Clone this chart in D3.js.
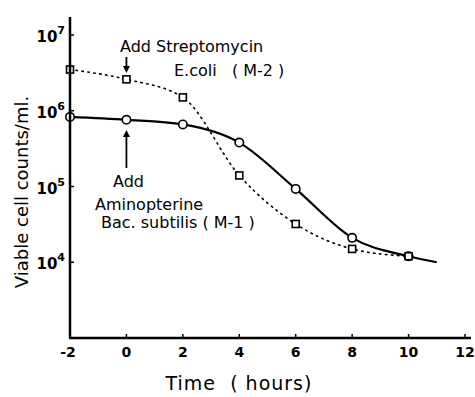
<!DOCTYPE html>
<html lang="en">
<head>
<meta charset="UTF-8">
<title>Viable cell counts</title>
<script src="https://cdn.jsdelivr.net/npm/d3@7"></script>
<style>
  body { margin: 0; background: #fff; }
  svg { font-family: "DejaVu Sans", sans-serif; }
  text { white-space: pre; }
  .tick-lbl { font-size: 14px; font-weight: bold; }
  .note { font-size: 16px; }
</style>
</head>
<body>
<svg width="475" height="397"></svg>
<script>
// hours after addition
const timesSubtilis = [-2, 0, 2, 4, 6, 8, 10, 11];
const countsSubtilis = [8.3e5, 7.6e5, 6.6e5, 3.8e5, 9.3e4, 2.1e4, 1.2e4, 1.0e4];
const timesColi = [-2, 0, 2, 4, 6, 8, 10];
const countsColi = [3.5e6, 2.6e6, 1.5e6, 1.4e5, 3.2e4, 1.5e4, 1.2e4];
const xTicks = [-2, 0, 2, 4, 6, 8, 10, 12];
const yTicks = [1e4, 1e5, 1e6, 1e7];

const svg = d3.select("svg");

const x = d3.scaleLinear().domain([-2, 12]).range([70, 465]);
const y = d3.scaleLog().domain([1e3, 1e7]).range([338, 35]);

// axes
svg.append("line")
    .attr("x1", x(-2) - 1).attr("x2", 471)
    .attr("y1", y(1e3)).attr("y2", y(1e3))
    .attr("stroke", "#000").attr("stroke-width", 2.5);

svg.selectAll(".xt").data(xTicks).join("line")
    .attr("x1", d => x(d)).attr("x2", d => x(d))
    .attr("y1", y(1e3)).attr("y2", y(1e3) - 4)
    .attr("stroke", "#000").attr("stroke-width", 1.5);
svg.selectAll(".xl").data(xTicks).join("text")
    .attr("class", "tick-lbl")
    .attr("x", d => x(d) - (d < 0 ? 2 : 0))
    .attr("y", 357)
    .attr("text-anchor", "middle")
    .text(d => d);

svg.selectAll(".yt").data(yTicks).join("line")
    .attr("x1", x(-2)).attr("x2", x(-2) + 4)
    .attr("y1", d => y(d)).attr("y2", d => y(d))
    .attr("stroke", "#000").attr("stroke-width", 1.5);
const yl = svg.selectAll(".yl").data(yTicks).join("text")
    .attr("class", "tick-lbl")
    .attr("x", 65)
    .attr("y", d => y(d) + 7)
    .attr("text-anchor", "end")
    .style("font-size", "15px");
yl.append("tspan").text("10");
yl.append("tspan").attr("dy", -8).style("font-size", "11px")
    .text(d => Math.round(Math.log10(d)));

// axis titles
svg.append("text")
    .attr("x", 239).attr("y", 390)
    .attr("text-anchor", "middle")
    .style("font-size", "19px")
    .style("letter-spacing", "1px")
    .text("Time  ( hours)");
svg.append("text")
    .attr("transform", "translate(28,192) rotate(-90)")
    .attr("text-anchor", "middle")
    .style("font-size", "18px")
    .text("Viable cell counts/ml.");

// curves
const line = d3.line()
    .x(d => x(d[0]))
    .y(d => y(d[1]))
    .curve(d3.curveMonotoneX);

const subtilis = timesSubtilis.map((t, i) => [t, countsSubtilis[i]]);
const coli = timesColi.map((t, i) => [t, countsColi[i]]);

svg.append("path").datum(subtilis)
    .attr("d", line)
    .attr("fill", "none").attr("stroke", "#000").attr("stroke-width", 2.2);
svg.append("path").datum(coli)
    .attr("d", line)
    .attr("fill", "none").attr("stroke", "#000").attr("stroke-width", 1.6)
    .attr("stroke-dasharray", "1.5,4.5").attr("stroke-linecap", "round");

svg.selectAll(".pc").data(subtilis.slice(0, 7)).join("circle")
    .attr("cx", d => x(d[0])).attr("cy", d => y(d[1]))
    .attr("r", 4.2)
    .attr("fill", "#fff").attr("stroke", "#000").attr("stroke-width", 1.6);
svg.selectAll(".ps").data(coli).join("rect")
    .attr("x", d => x(d[0]) - 3.5).attr("y", d => y(d[1]) - 3.5)
    .attr("width", 7).attr("height", 7)
    .attr("fill", "#fff").attr("stroke", "#000").attr("stroke-width", 1.6);

// y axis drawn over the first markers
svg.append("line")
    .attr("x1", x(-2)).attr("x2", x(-2))
    .attr("y1", 17).attr("y2", y(1e3))
    .attr("stroke", "#000").attr("stroke-width", 2.5);

// annotations
function arrow(x0, y0, y1) {
    const dir = y1 > y0 ? 1 : -1;
    svg.append("line")
        .attr("x1", x0).attr("x2", x0).attr("y1", y0).attr("y2", y1 - dir * 4)
        .attr("stroke", "#000").attr("stroke-width", 1.8);
    svg.append("path")
        .attr("d", `M${x0 - 3.5},${y1 - dir * 7}L${x0},${y1}L${x0 + 3.5},${y1 - dir * 7}Z`)
        .attr("fill", "#000");
}
arrow(x(0), 57, 73);
arrow(x(0), 168, 130);

const notes = [
    ["Add Streptomycin", 120, 52],
    ["E.coli   ( M-2 )", 174, 76],
    ["Add", 113, 187],
    ["Aminopterine", 95, 210],
    ["Bac. subtilis ( M-1 )", 101, 228]
];
svg.selectAll(".note").data(notes).join("text")
    .attr("class", "note")
    .attr("x", d => d[1]).attr("y", d => d[2])
    .text(d => d[0]);
</script>
</body>
</html>
